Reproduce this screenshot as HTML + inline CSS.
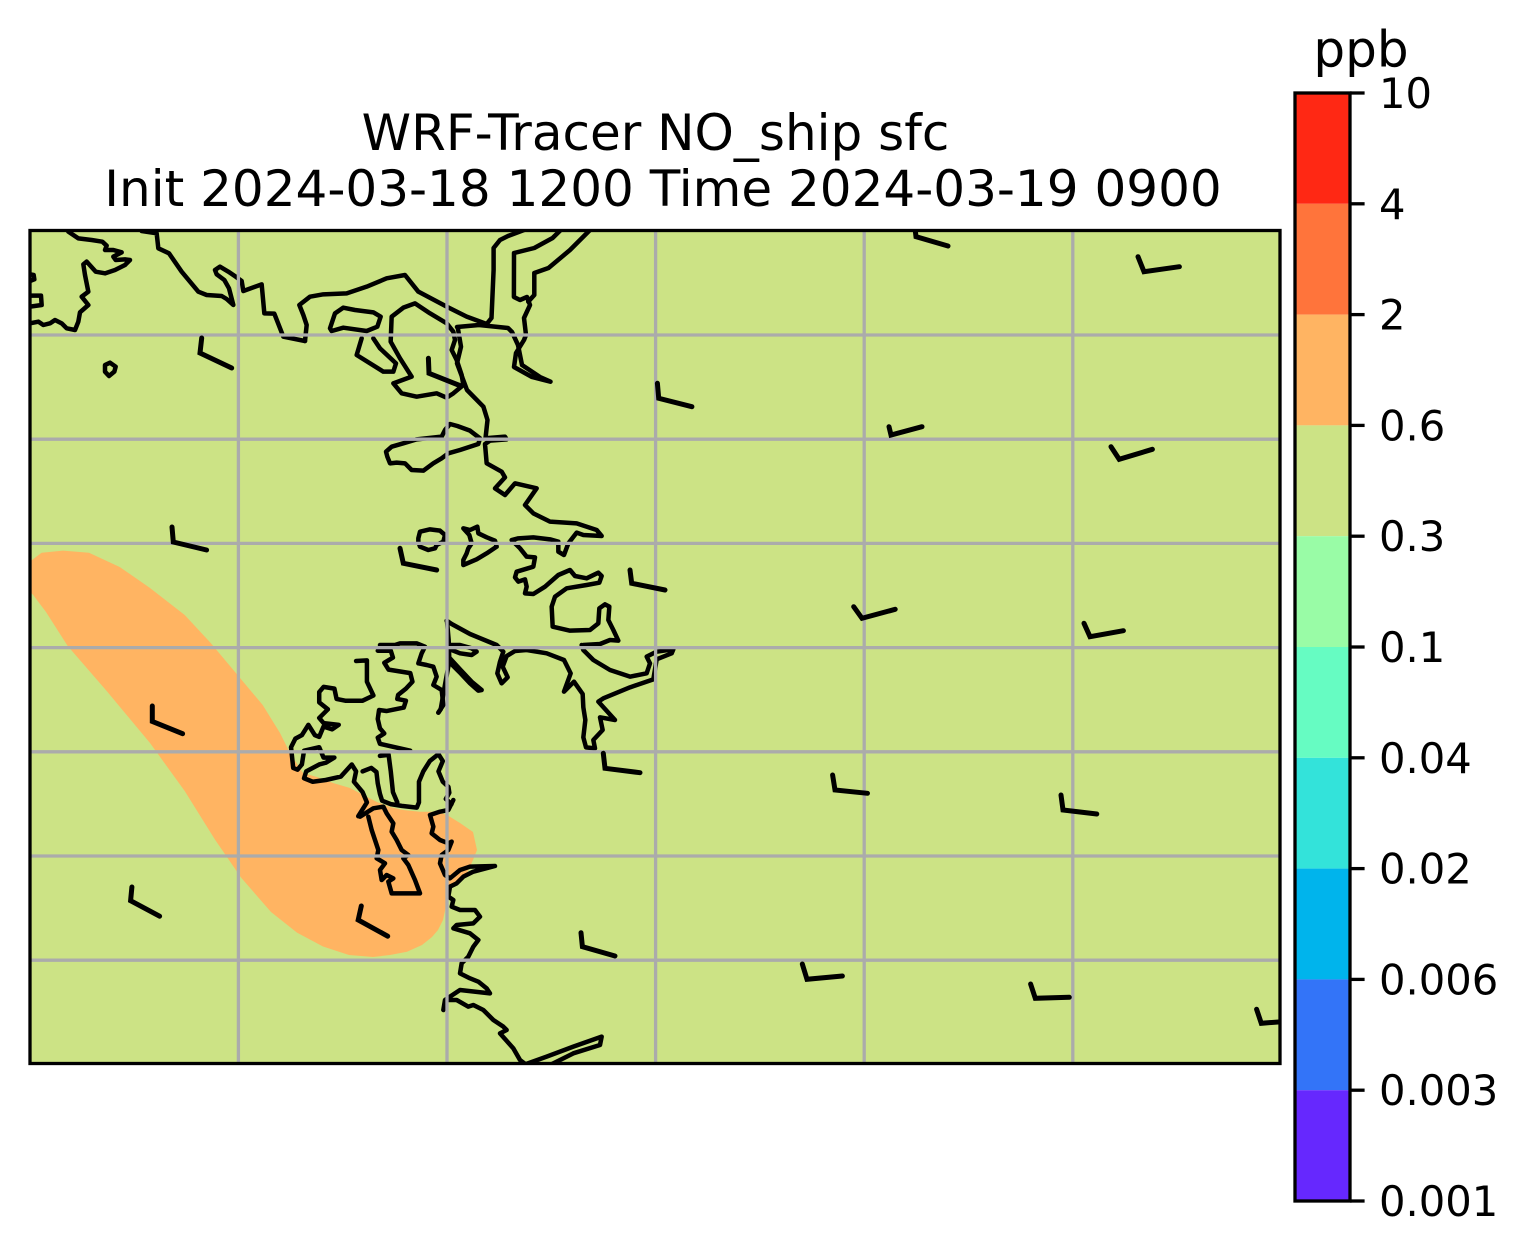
<!DOCTYPE html>
<html><head><meta charset="utf-8"><style>
html,body{margin:0;padding:0;background:#fff;}
svg{display:block;}
text{font-family:"DejaVu Sans","Liberation Sans",sans-serif;fill:#000;}
.c{fill:none;stroke:#000;stroke-width:4.5;stroke-linejoin:round;stroke-linecap:round;vector-effect:non-scaling-stroke;}
.b{fill:none;stroke:#000;stroke-width:5;stroke-linejoin:miter;stroke-linecap:round;}
.g{stroke:#ababab;stroke-width:3.3;}
</style></head><body>
<svg width="1528" height="1256" viewBox="0 0 1528 1256" xmlns="http://www.w3.org/2000/svg">
<defs><clipPath id="ax"><rect x="30" y="230.5" width="1250" height="833"/></clipPath></defs>
<rect x="0" y="0" width="1528" height="1256" fill="#fff"/>

<text x="655.5" y="150" font-size="50" text-anchor="middle">WRF-Tracer NO_ship sfc</text>
<text x="663" y="206" font-size="50" text-anchor="middle">Init 2024-03-18 1200 Time 2024-03-19 0900</text>

<g clip-path="url(#ax)">
<rect x="30" y="230.5" width="1250" height="833" fill="#CCE385"/>
<path fill="#FFB462" d="M28,563 L41.6,552.7 L63,550.6 L89,552.7 L119.7,567 L150,588 L184.7,615 L210.7,643 L236.7,674 L262.7,705 L280,733 L290,753 L303,773 L317,777 L333,783 L350,788 L367,797 L377,802 L390,807 L403,810 L420,811.7 L437,811.7 L447,815 L460,823 L473,832 L477,850 L473,860 L467,873 L457,883 L450,890 L446.7,903 L443,920 L438,930 L432,937 L422,945 L407,951.7 L390,955 L373,957 L349,955 L323,946.5 L297,932.6 L271,912 L241,877.5 L215,839.6 L184.7,791 L150,743 L106.7,691 L67.7,646 L46,612 L33,594.7 L28,590 Z"/>

<!-- coastlines: Z9 frame -->
<g transform="translate(25,225) scale(0.33333)">
<path class="c" d="M130,20 L160,40 L200,45 L232,50 L245,62 L240,75 L265,75 L290,82 L265,95 L272,105 L300,103 L315,105 L300,120 L270,135 L240,145 L212,140 L185,110 L175,118 L180,150 L190,200 L170,215 L190,240 L165,262 L160,290 L150,315 L125,310 L110,295 L90,285 L75,295 L55,300 L40,290 L15,295"/>
<path class="c" d="M15,148 L26,150 L28,163 L15,168"/>
<path class="c" d="M15,212 L48,212 L50,240 L15,245"/>
<path class="c" d="M240,420 L255,413 L272,425 L268,440 L252,453 L240,440 Z"/>
<path class="c" d="M350,18 L395,25 L400,70 L432,85 L470,140 L520,200 L545,210 L590,213 L605,222 L625,240 L612,190 L598,165 L575,148 L570,135 L585,125 L610,140 L632,155 L650,168 L655,198 L710,178 L718,265 L748,266 L775,335 L840,348"/>
</g>
<!-- Z10 frame -->
<g transform="translate(290,225) scale(0.33333)">
<path class="c" d="M45,348 L50,300 L40,270 L28,240 L60,215 L100,208 L170,205 L230,185 L290,160 L345,150 L385,200 L470,245 L530,275 L590,297"/>
<path class="c" d="M120,310 L135,265 L160,248 L195,255 L250,262 L272,275 L262,305 L230,318 L160,308 L125,318 Z"/>
<path class="c" d="M215,340 L200,390 L280,440 L310,440 L318,415 L270,370 L250,340"/>
<path class="c" d="M305,275 L340,248 L375,235 L420,265 L470,295 L490,320 L495,345 L485,375 L500,405 L515,450 L520,480 L490,505 L470,518 L440,505 L380,515 L335,505 L310,475 L365,455 L330,400 L302,350 Z"/>
</g>
<!-- channel / river (orig coords) -->
<path class="c" d="M486.7,324 L491.5,318 L493.6,270 L493.6,248 L500,240 L508,236 L524,230"/>
<path class="c" d="M560.7,230 L552.6,238 L534.3,248 L514,253 L513.9,297 L520,300 L527,297 L530,305 L524,318 L526,335 L524,340 L516,353 L514,367 L532,377 L550.5,381.7 L540,377 L522,365 L518,345 L512,332 L508,328 L479,325 L457,327"/>
<path class="c" d="M590,230 L570,250 L548.5,268 L534.3,273 L534.3,295 L528.2,301.7"/>
<path class="c" d="M458,329 L461,346.7 L457,363.3 L467,390 L483.4,406.7 L487.5,420 L485.5,438.3 L503.7,436.7"/>
<!-- Z11 frame -->
<g transform="translate(370,420) scale(0.33333)">
<path class="c" d="M48,95 L65,80 L100,70 L140,58 L215,50 L225,30 L240,12 L262,18 L300,32 L330,55 L325,72 L270,90 L235,100 L215,115 L190,130 L160,152 L125,150 L105,130 L80,128 L60,130 L52,110 Z"/>
<path class="c" d="M405,50 L410,58 L360,62 L345,72 L350,130 L395,155 L405,172 L375,205 L405,225 L435,190 L500,205 L465,255 L490,280 L540,305 L620,310 L680,330 L695,348 L640,345 L620,338 L595,370 L582,405 L565,395 L565,365 L540,358 L490,352 L445,355 L425,360 L450,385 L470,410 L495,412 L490,440 L440,455 L435,472 L445,485 L465,478 L470,500 L465,520 L490,522 L525,500 L565,465 L600,450 L615,468 L650,475 L685,458 L695,468 L688,488 L650,495 L590,505 L555,530 L545,560 L548,620 L600,632 L660,630 L685,610 L688,565 L705,553 L718,560 L715,600 L730,630 L745,662 L720,660 L690,672 L640,675"/>
<path class="c" d="M145,355 L150,335 L180,328 L210,332 L225,345 L220,365 L200,375 L195,385 L175,390 L150,380 L145,365 Z"/>
<path class="c" d="M280,325 L300,330 L322,320 L325,340 L350,352 L375,362 L380,380 L350,400 L320,418 L280,435 L280,420 L290,400 L295,385 L305,370 L298,345 Z"/>
</g>
<!-- Z6 frame -->
<g transform="translate(270,620) scale(0.33333)">
<path class="c" d="M935,75 L940,90 L970,120 L1020,150 L1080,170 L1130,160 L1140,130 L1130,110 L1160,95 L1210,88 L1205,100 L1160,118 L1150,178 L1080,202 L1000,235 L985,245 L1035,300 L990,292 L998,330 L970,360 L975,385 L948,382 L940,352 L946,300 L940,262 L938,222 L912,185 L882,215 L902,160 L882,120 L830,100 L770,90 L735,93 L710,108 L698,140 L713,172 L695,190 L682,160 L690,125 L700,95 L680,75 L600,42 L545,12 L530,2"/>
<path class="c" d="M535,75 L570,75 L605,85 L620,95 L605,105 L570,100 L545,90 Z"/>
<path class="c" d="M540,115 L572,150 L605,185 L635,210 L625,212 L600,190 L568,156 L540,128"/>
<path class="c" d="M531,3 L536,60 L538,123 L525,194 L512,268 L505,278"/>
<path class="c" d="M330,75 L375,75 L390,70 L440,70 L465,80 L455,100 L445,130 L470,135 L490,140 L500,170 L490,195 L515,210 L520,255 L505,278"/>
</g>
<!-- Z2 frame (west fjords) -->
<g transform="translate(20,530) scale(0.43365,0.34483)">
<path class="c" d="M825,350 L855,350 L860,370 L840,385 L850,405 L900,415 L905,440 L890,460 L872,478 L870,490 L890,495 L885,515 L845,525 L828,522 L825,548 L830,575 L840,590 L825,602 L830,620 L900,640"/>
<path class="c" d="M775,380 L800,378 L800,440 L815,480 L790,495 L750,495 L730,490 L725,460 L700,455 L690,470 L690,500 L710,520 L690,545 L700,560 L735,565 L720,578 L700,570 L690,600 L680,595 L665,565 L650,595 L635,605 L625,630 L630,690 L640,695 L650,680 L655,640 L690,630 L700,660 L725,660 L705,675 L690,680 L660,700 L655,720 L675,730 L705,725 L740,715 L765,680 L775,700 L770,730 L790,760 L800,790 L790,810 L780,830"/>
<path class="c" d="M790,700 L810,690 L822,702 L825,735 L830,765 L835,785 L855,795 L880,800 L915,805 L920,790 L920,730 L930,700 L945,670 L965,650 L975,670 L965,700 L975,730 L988,745 L990,762 L982,780 L995,795"/>
<path class="c" d="M830,655 L850,652 L855,700 L860,760 L870,790"/>
</g>
<!-- Z12 frame (bottom) -->
<g transform="translate(360,800) scale(0.33333)">
<path class="c" d="M0,50 L40,25 L70,20 L80,40 L100,70 L95,95 L110,120 L125,150 L145,165 L130,175 L145,195 L165,240 L180,280 L95,280 L85,245 L100,235 L80,225 L65,240 L60,210 L75,190 L50,175 L55,150 L45,120 L35,90 L25,50"/>
<path class="c" d="M280,0 L275,10 L265,30 L240,35 L210,45 L220,80 L215,100 L240,120 L265,130 L275,125 L265,150 L245,165 L240,190 L255,225 L270,235 L300,210 L330,200 L405,198 L340,215 L310,230 L290,250 L270,260 L265,290 L280,300 L275,320 L300,330 L345,330 L360,350 L340,370 L290,375 L280,385 L330,400 L355,420 L340,440 L325,470 L305,490 L300,520 L330,535 L355,545 L380,565 L390,580 L300,570 L270,590 L255,600 L250,630 L260,600 L290,600 L325,620 L340,615 L370,630 L400,660 L430,680 L440,690 L420,700 L460,745 L480,780 L500,795"/>
<path class="c" d="M490,795 L560,770 L640,740 L725,710 L720,735 L640,760 L570,795"/>
</g>

<!-- gridlines -->
<g class="g">
<line x1="238.4" y1="230" x2="238.4" y2="1064"/>
<line x1="447" y1="230" x2="447" y2="1064"/>
<line x1="655.6" y1="230" x2="655.6" y2="1064"/>
<line x1="864.2" y1="230" x2="864.2" y2="1064"/>
<line x1="1072.8" y1="230" x2="1072.8" y2="1064"/>
<line x1="30" y1="335" x2="1280" y2="335"/>
<line x1="30" y1="439.2" x2="1280" y2="439.2"/>
<line x1="30" y1="543.4" x2="1280" y2="543.4"/>
<line x1="30" y1="647.6" x2="1280" y2="647.6"/>
<line x1="30" y1="751.8" x2="1280" y2="751.8"/>
<line x1="30" y1="856" x2="1280" y2="856"/>
<line x1="30" y1="960.2" x2="1280" y2="960.2"/>
</g>

<!-- wind barbs -->
<g class="b">
<path d="M201.7,338 L200,353 L231.7,368"/>
<path d="M172,527 L173.3,542 L206.6,550"/>
<path d="M400,548.3 L403.3,563.3 L436.7,570"/>
<path d="M630,570 L631.7,583.3 L665,590"/>
<path d="M152.3,706 L152.3,721.4 L182.6,733.7"/>
<path d="M131.9,887 L130.6,900.7 L159.6,916.2"/>
<path d="M361.3,906 L358.2,920 L387.7,936.2"/>
<path d="M603.3,753.3 L605,768.3 L640,772.7"/>
<path d="M832.6,775 L835,790 L867.5,793.3"/>
<path d="M1061,795 L1063,810 L1096.8,814"/>
<path d="M581,932.7 L582.4,946.7 L615,956"/>
<path d="M802.3,964 L807,979.3 L842.4,976"/>
<path d="M1030.6,984 L1035.3,998.3 L1069.3,997.3"/>
<path d="M1256.6,1009.3 L1261.3,1023.3 L1282,1021.7"/>
<path d="M914.7,226 L916,236.7 L948,246"/>
<path d="M1138,256.7 L1144,271.7 L1179.4,266.7"/>
<path d="M657.4,383.3 L658.7,398.3 L691.9,406.7"/>
<path d="M889,426.7 L891,435 L922,426.7"/>
<path d="M1111,446.7 L1119.2,459.3 L1152.4,449.3"/>
<path d="M853.7,606.7 L862,618.3 L895.2,609.3"/>
<path d="M1084,623.3 L1090,636.7 L1123.4,630.7"/>
<path d="M428.4,358.3 L429,373.3 L461,386"/>
</g>
</g>
<rect x="30" y="230.5" width="1250" height="833" fill="none" stroke="#000" stroke-width="3.3"/>

<!-- colorbar -->
<g>
<rect x="1295" y="93" width="55" height="110.8" fill="#FF2814"/>
<rect x="1295" y="203.8" width="55" height="110.8" fill="#FF743B"/>
<rect x="1295" y="314.6" width="55" height="110.8" fill="#FFB462"/>
<rect x="1295" y="425.4" width="55" height="110.8" fill="#CCE385"/>
<rect x="1295" y="536.2" width="55" height="110.8" fill="#99FCA6"/>
<rect x="1295" y="647" width="55" height="110.8" fill="#66FCC2"/>
<rect x="1295" y="757.8" width="55" height="110.8" fill="#33E3DA"/>
<rect x="1295" y="868.6" width="55" height="110.8" fill="#00B4EC"/>
<rect x="1295" y="979.4" width="55" height="110.8" fill="#3374F8"/>
<rect x="1295" y="1090.2" width="55" height="110.8" fill="#6628FE"/>
<rect x="1295" y="93" width="55" height="1108" fill="none" stroke="#000" stroke-width="3.3"/>
<g stroke="#000" stroke-width="3.3">
<line x1="1350" y1="93" x2="1364.6" y2="93"/>
<line x1="1350" y1="203.8" x2="1364.6" y2="203.8"/>
<line x1="1350" y1="314.6" x2="1364.6" y2="314.6"/>
<line x1="1350" y1="425.4" x2="1364.6" y2="425.4"/>
<line x1="1350" y1="536.2" x2="1364.6" y2="536.2"/>
<line x1="1350" y1="647" x2="1364.6" y2="647"/>
<line x1="1350" y1="757.8" x2="1364.6" y2="757.8"/>
<line x1="1350" y1="868.6" x2="1364.6" y2="868.6"/>
<line x1="1350" y1="979.4" x2="1364.6" y2="979.4"/>
<line x1="1350" y1="1090.2" x2="1364.6" y2="1090.2"/>
<line x1="1350" y1="1201" x2="1364.6" y2="1201"/>
</g>
<g font-size="41.67">
<text x="1379" y="108">10</text>
<text x="1379" y="218.8">4</text>
<text x="1379" y="329.6">2</text>
<text x="1379" y="440.4">0.6</text>
<text x="1379" y="551.2">0.3</text>
<text x="1379" y="662">0.1</text>
<text x="1379" y="772.8">0.04</text>
<text x="1379" y="883.6">0.02</text>
<text x="1379" y="994.4">0.006</text>
<text x="1379" y="1105.2">0.003</text>
<text x="1379" y="1216">0.001</text>
</g>
<text x="1361" y="66.5" font-size="50" text-anchor="middle">ppb</text>
</g>
</svg>
</body></html>
